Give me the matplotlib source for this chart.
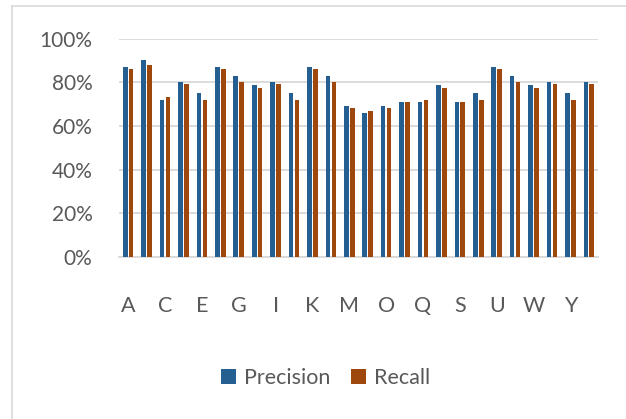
import matplotlib.pyplot as plt
import numpy as np
from matplotlib.lines import Line2D

# data (percent)
categories = list("ABCDEFGHIJKLMNOPQRSTUVWXYZ")
precision = [87, 90, 72, 80, 75, 87, 83, 78.5, 80, 75, 87, 83, 69,
             66, 69, 71, 71, 78.5, 71, 75, 87, 83, 78.5, 80, 75, 80]
recall = [86, 88, 73, 79, 72, 86, 80, 77.5, 79, 72, 86, 80, 68,
          67, 68, 71, 72, 77.5, 71, 72, 86, 80, 77.5, 79, 72, 79]

plt.rcParams['font.family'] = ['Lato', 'DejaVu Sans']
grey = '#595959'

fig = plt.figure(figsize=(6.26, 4.19), dpi=100)
ax = fig.add_axes([119/626, 162/419, 479/626, 218.5/419])

x = np.arange(len(categories))
w = 0.25
ax.bar(x - 0.16, precision, w, color='#255E91', label='Precision', zorder=3)
ax.bar(x + 0.16, recall, w, color='#9E480E', label='Recall', zorder=3)

ax.set_xlim(-0.5, len(categories) - 0.5)
ax.set_ylim(0, 100)
ax.set_yticks([0, 20, 40, 60, 80, 100])
ax.set_yticklabels([f'{v}%' for v in [0, 20, 40, 60, 80, 100]])
ax.set_xticks(x[::2])
ax.set_xticklabels(categories[::2])
ax.yaxis.grid(True, color='#D9D9D9', linewidth=1.3, zorder=0)
for s in ['top', 'right', 'left']:
    ax.spines[s].set_visible(False)
ax.spines['bottom'].set_color('#D9D9D9')
ax.spines['bottom'].set_linewidth(1.3)
ax.tick_params(axis='y', length=0, pad=19, labelsize=15, labelcolor=grey)
ax.tick_params(axis='x', length=0, pad=28, labelsize=15.5, labelcolor=grey)

fig.legend(loc='center', bbox_to_anchor=(0.52, 1 - 378/419), ncol=2, frameon=False,
           fontsize=15.5, labelcolor=grey, handlelength=0.7, handleheight=0.7,
           handletextpad=0.35, columnspacing=1.0)

# chart frame (top and left edges visible)
fig.add_artist(Line2D([12/626, 1], [1 - 6/419, 1 - 6/419], color='#D9D9D9', lw=1.2))
fig.add_artist(Line2D([12/626, 12/626], [0, 1 - 6/419], color='#D9D9D9', lw=1.2))

fig.savefig('out.png', dpi=100)
